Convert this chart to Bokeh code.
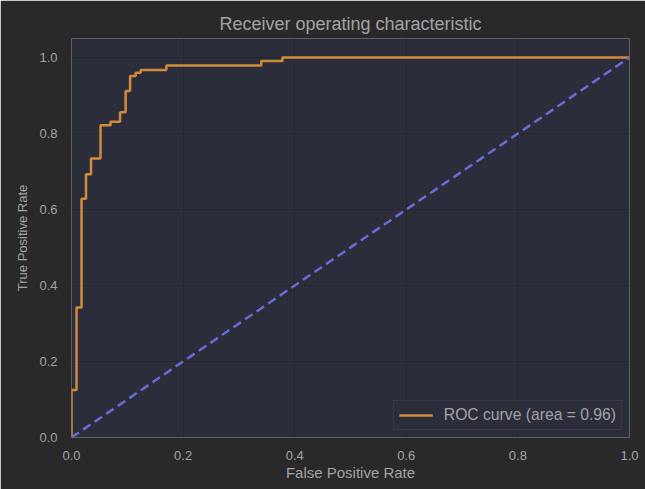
from bokeh.plotting import figure
from bokeh.models import Range1d, FixedTicker, PrintfTickFormatter, Legend, LegendItem
from bokeh.embed import file_html
from bokeh.resources import INLINE

# ROC curve corner points
fpr = [0.0, 0.0, 0.009, 0.009, 0.018, 0.018, 0.026, 0.026, 0.035, 0.035,
       0.052, 0.052, 0.070, 0.070, 0.087, 0.087, 0.097, 0.097, 0.105, 0.105,
       0.115, 0.115, 0.124, 0.124, 0.170, 0.170, 0.340, 0.340, 0.378, 0.378, 1.0]
tpr = [0.0, 0.125, 0.125, 0.342, 0.342, 0.628, 0.628, 0.693, 0.693, 0.734,
       0.734, 0.822, 0.822, 0.831, 0.831, 0.856, 0.856, 0.912, 0.912, 0.951,
       0.951, 0.960, 0.960, 0.967, 0.967, 0.979, 0.979, 0.991, 0.991, 1.0, 1.0]
chance_x = [0.0, 1.0]
chance_y = [0.0, 1.0]
roc_label = "ROC curve (area = 0.96)"
ticks = [0.0, 0.2, 0.4, 0.6, 0.8, 1.0]

FONT = "Liberation Sans"
BG = "#292929"
PLOT_BG = "#2c2d3b"
GRID = "#25262f"
TXT = "#a3a3a3"

p = figure(width=645, height=489, output_backend="svg", toolbar_location=None,
           x_range=Range1d(0, 1.0), y_range=Range1d(0, 1.05),
           min_border_left=71, min_border_right=16, min_border_top=38, min_border_bottom=52)
p.background_fill_color = PLOT_BG
p.border_fill_color = BG
p.outline_line_color = None

p.title.text = "Receiver operating characteristic"
p.title.align = "center"
p.title.text_font = FONT
p.title.text_font_size = "18px"
p.title.text_font_style = "normal"
p.title.text_color = TXT
p.title.standoff = 10

for ax in (p.xaxis[0], p.yaxis[0]):
    ax.ticker = FixedTicker(ticks=ticks)
    ax.formatter = PrintfTickFormatter(format="%.1f")
    ax.axis_line_color = None
    ax.major_tick_line_color = None
    ax.minor_tick_line_color = None
    ax.major_label_text_font = FONT
    ax.major_label_text_font_size = "13px"
    ax.major_label_text_color = TXT
    ax.axis_label_text_font = FONT
    ax.axis_label_text_font_style = "normal"
    ax.axis_label_text_color = TXT
p.xaxis.axis_label = "False Positive Rate"
p.yaxis.axis_label = "True Positive Rate"
p.xaxis.axis_label_text_font_size = "15px"
p.yaxis.axis_label_text_font_size = "13px"
p.xaxis.major_label_standoff = 7
p.yaxis.major_label_standoff = 8
p.xaxis.axis_label_standoff = 1
p.yaxis.axis_label_standoff = 6

p.xgrid.ticker = FixedTicker(ticks=ticks)
p.ygrid.ticker = FixedTicker(ticks=ticks)
p.grid.grid_line_color = GRID
p.grid.grid_line_width = 1

roc = p.line(fpr, tpr, line_color="#d08c3a", line_width=2.5)
p.line(chance_x, chance_y, line_color="#6b6bd6", line_width=2.5, line_dash="9 5")

legend = Legend(items=[LegendItem(label=roc_label, renderers=[roc])],
                location="bottom_right")
legend.background_fill_color = PLOT_BG
legend.background_fill_alpha = 1.0
legend.border_line_color = "#4a4b55"
legend.border_line_width = 1
legend.label_text_font = FONT
legend.label_text_font_size = "15.7px"
legend.label_text_color = TXT
legend.glyph_width = 34
legend.glyph_height = 18
legend.padding = 5
legend.margin = 7
legend.label_standoff = 11
legend.label_height = 16
p.add_layout(legend)

open("out.html", "w").write(file_html(p, INLINE))
